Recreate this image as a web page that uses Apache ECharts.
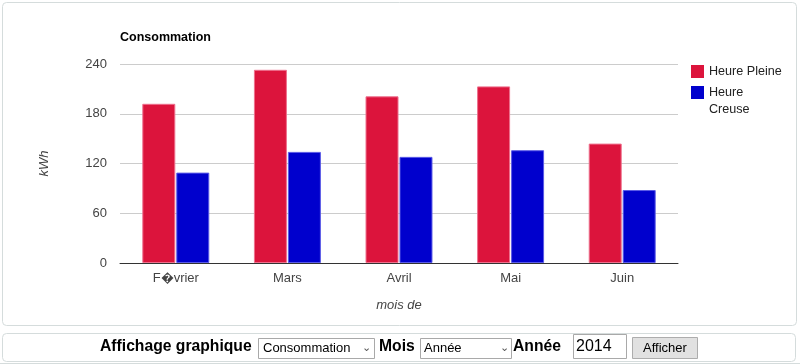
<!DOCTYPE html>
<html><head><meta charset="utf-8">
<script src="https://cdn.jsdelivr.net/npm/echarts@6/dist/echarts.min.js"></script>
<style>html,body{margin:0;padding:0;background:#fff}#c{width:800px;height:364px}</style>
</head><body><div id="c"></div>
<script>
const categories = ['F\uFFFDvrier', 'Mars', 'Avril', 'Mai', 'Juin'];
const heurePleine = [192, 233, 201, 213, 144];
const heureCreuse = [109, 134, 128, 136, 88];
const yTicks = [0, 60, 120, 180, 240];
const seriesNames = ['Heure Pleine', 'Heure Creuse'];

const FONT = '"Liberation Sans", Arial, sans-serif';
const chart = echarts.init(document.getElementById('c'), null, {renderer: 'canvas'});
const option = {
  animation: false,
  textStyle: {fontFamily: FONT},
  title: {
    text: 'Consommation', left: 120, top: 31, padding: 0,
    textStyle: {fontFamily: FONT, fontSize: 12.5, fontWeight: 'bold', color: '#000'}
  },
  legend: {
    orient: 'vertical', left: 691, top: 63, padding: 0,
    itemWidth: 13, itemHeight: 13, itemGap: -13,
    icon: 'rect',
    itemStyle: {borderWidth: 0},
    textStyle: {fontFamily: FONT, fontSize: 12.6, color: '#222', lineHeight: 17},
    formatter: function (n) { return n === 'Heure Creuse' ? ' \nHeure\nCreuse' : n; },
    data: seriesNames
  },
  grid: {left: 120, right: 122, top: 64, bottom: 101, containLabel: false},
  xAxis: {
    type: 'category', data: categories,
    axisLine: {lineStyle: {color: '#333', width: 1}},
    axisTick: {show: false},
    axisLabel: {color: '#444', fontSize: 13, margin: 9, fontFamily: FONT},
    name: 'mois de', nameLocation: 'middle', nameGap: 36,
    nameTextStyle: {color: '#444', fontSize: 13, fontStyle: 'italic', fontFamily: FONT}
  },
  yAxis: {
    type: 'value', min: yTicks[0], max: yTicks[yTicks.length - 1], interval: 60,
    axisLine: {show: false}, axisTick: {show: false},
    axisLabel: {color: '#444', fontSize: 13, margin: 13, fontFamily: FONT},
    splitLine: {lineStyle: {color: '#cccccc', width: 1}},
    name: 'kWh', nameLocation: 'middle', nameGap: 69, nameRotate: 90,
    nameTextStyle: {color: '#444', fontSize: 13, fontStyle: 'italic', fontFamily: FONT}
  },
  series: [
    {name: seriesNames[0], type: 'bar', data: heurePleine, barCategoryGap: '40%', barGap: '3%',
     itemStyle: {color: '#dc143c', borderColor: '#ee6f8c', borderWidth: 1}},
    {name: seriesNames[1], type: 'bar', data: heureCreuse,
     itemStyle: {color: '#0000cd', borderColor: '#5a5ae6', borderWidth: 1}}
  ],
  graphic: [
    {type: 'rect', z: -10, shape: {x: 2.5, y: 2.5, width: 794, height: 323, r: 4},
     style: {fill: '#fff', stroke: '#d5dcdc', lineWidth: 1}},
    {type: 'rect', z: -10, shape: {x: 2.5, y: 333.5, width: 793, height: 28, r: 4},
     style: {fill: '#fff', stroke: '#d5dcdc', lineWidth: 1}},
    {type: 'rect', z: -10, shape: {x: 0, y: 363, width: 800, height: 1}, style: {fill: '#d5dcdc'}},
    {type: 'text', left: 100, top: 339, style: {text: 'Affichage graphique', font: 'bold 15.7px ' + FONT, fill: '#000'}},
    {type: 'rect', shape: {x: 258.5, y: 338.5, width: 116, height: 20}, style: {fill: '#fff', stroke: '#a9a9a9', lineWidth: 1}},
    {type: 'text', left: 263, top: 342, style: {text: 'Consommation', font: '13px ' + FONT, fill: '#000'}},
    {type: 'text', left: 362, top: 342, style: {text: '\u2304', font: '11px ' + FONT, fill: '#555'}},
    {type: 'text', left: 379, top: 339, style: {text: 'Mois', font: 'bold 15.7px ' + FONT, fill: '#000'}},
    {type: 'rect', shape: {x: 420.5, y: 338.5, width: 91, height: 20}, style: {fill: '#fff', stroke: '#a9a9a9', lineWidth: 1}},
    {type: 'text', left: 424, top: 342, style: {text: 'Ann\u00e9e', font: '13px ' + FONT, fill: '#000'}},
    {type: 'text', left: 500, top: 342, style: {text: '\u2304', font: '11px ' + FONT, fill: '#555'}},
    {type: 'text', left: 513, top: 339, style: {text: 'Ann\u00e9e', font: 'bold 15.7px ' + FONT, fill: '#000'}},
    {type: 'rect', shape: {x: 573.5, y: 334.5, width: 53, height: 24}, style: {fill: '#fff', stroke: '#a9a9a9', lineWidth: 1}},
    {type: 'text', left: 576, top: 339, style: {text: '2014', font: '16px ' + FONT, fill: '#000'}},
    {type: 'rect', shape: {x: 632.5, y: 337.5, width: 65, height: 21}, style: {fill: '#e1e1e1', stroke: '#adadad', lineWidth: 1}},
    {type: 'text', left: 643, top: 342, style: {text: 'Afficher', font: '13px ' + FONT, fill: '#000'}}
  ]
};
chart.setOption(option);
</script></body></html>
